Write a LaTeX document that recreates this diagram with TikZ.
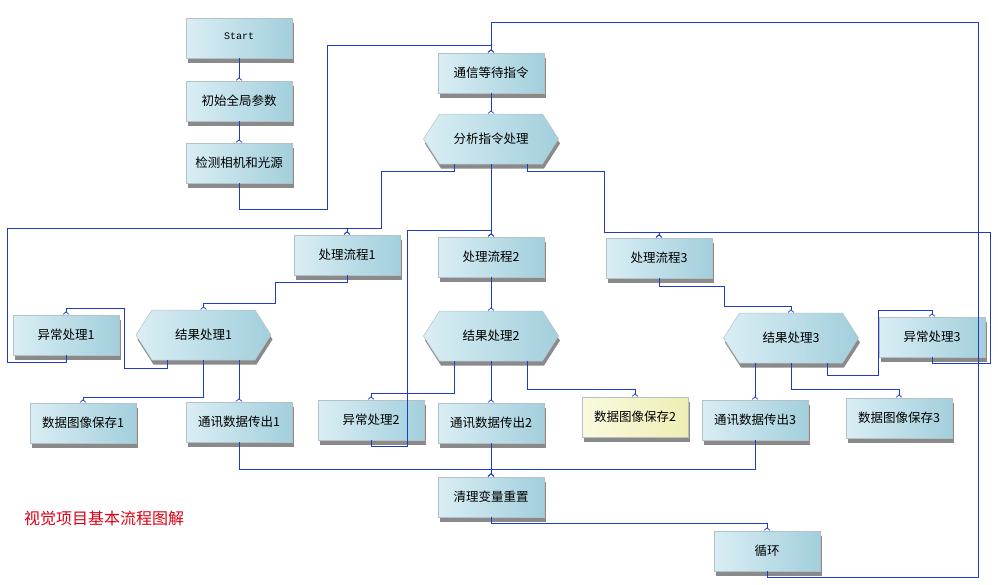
\documentclass[tikz,border=0pt]{standalone}
\usepackage{fontspec}
\setmainfont{Noto Sans CJK SC}
\setmonofont{Liberation Mono}
\usetikzlibrary{arrows.meta,shadows,calc}
\definecolor{boxL}{HTML}{DAEEF4}
\definecolor{boxR}{HTML}{A2CFDC}
\definecolor{yelL}{HTML}{FAFAE0}
\definecolor{yelR}{HTML}{EEEEB4}
\definecolor{edge}{HTML}{B4C2C8}
\definecolor{shad}{HTML}{8A8A8A}
\definecolor{wire}{HTML}{1E3CC8}
\definecolor{title}{HTML}{DC0014}
\tikzset{
  boxshadow/.style={general shadow={fill=shad, shadow xshift=1.5pt, shadow yshift=-4.5pt}},
  box/.style={rectangle, boxshadow, left color=boxL, right color=boxR, draw=edge, line width=0.5pt,
    minimum width=106pt, minimum height=40pt, inner sep=0pt, font=\fontsize{12.5}{14}\selectfont},
  yellowbox/.style={box, left color=yelL, right color=yelR},
  hexfill/.style={boxshadow, left color=boxL, right color=boxR, draw=edge, line width=0.5pt},
  hexnode/.style={rectangle, draw=none, minimum width=135pt, minimum height=50pt, inner sep=0pt,
    font=\fontsize{12.5}{14}\selectfont},
  conn/.style={draw=wire, line width=0.9pt, -{Straight Barb[reversed,length=2.5pt,width=6pt,line width=0.7pt]}},
  plain/.style={draw=wire, line width=0.9pt}
}
\newcommand\hexat[4]{%
  \path[hexfill] (#2-67.5,#3) -- (#2-51.5,#3-25) -- (#2+51.5,#3-25) -- (#2+67.5,#3)
     -- (#2+51.5,#3+25) -- (#2-51.5,#3+25) -- cycle;
  \node[hexnode] (#1) at (#2,#3) {#4};}
\begin{document}
\begin{tikzpicture}[x=1pt,y=-1pt]
\useasboundingbox (0,0) rectangle (998,584);
\fill[white] (0,0) rectangle (998,584);

% boxes
\node[box, font=\ttfamily\fontsize{10}{12}\selectfont] (start) at (239,38) {\raisebox{3pt}{Start}};
\node[box] (init) at (239,101) {初始全局参数};
\node[box] (detect) at (239,163) {检测相机和光源};
\node[box] (comm) at (491,73) {通信等待指令};
\hexat{ana}{491}{139}{分析指令处理}
\node[box] (p1) at (347,255) {处理流程1};
\node[box] (p2) at (491,257) {处理流程2};
\node[box] (p3) at (659,258) {处理流程3};
\node[box] (e1) at (66,335) {异常处理1};
\hexat{r1}{203.5}{335}{结果处理1}
\hexat{r2}{491}{336}{结果处理2}
\hexat{r3}{791}{338}{结果处理3}
\node[box] (e3) at (932,337) {异常处理3};
\node[box] (d1) at (83,423) {数据图像保存1};
\node[box] (t1) at (239,422) {通讯数据传出1};
\node[box] (e2) at (371,420) {异常处理2};
\node[box] (t2) at (491,423) {通讯数据传出2};
\node[yellowbox] (d2) at (635,417) {数据图像保存2};
\node[box] (t3) at (755,420) {通讯数据传出3};
\node[box] (d3) at (899,418) {数据图像保存3};
\node[box] (clear) at (491,497) {清理变量重置};
\node[box] (loop) at (767,551) {循环};

\node[text=title, font=\fontsize{16}{18}\selectfont, inner sep=0pt] (caption) at (104,518) {视觉项目基本流程图解};

% connectors
\draw[conn] (start.south) -- (init.north);
\draw[conn] (init.south) -- (detect.north);
\draw[conn] (detect.south) -- ++(0,26) -| (327,45) -| (comm.north);
\draw[conn] (loop.south) -- ++(0,6) -| (978,22) -| (comm.north);
\draw[conn] (comm.south) -- (ana.north);

\draw[conn] ($(ana.south)+(-37,0)$) -- ++(0,7) -| (381,228) -| (p1.north);
\draw[conn] (e1.south) -- ++(0,7) -| (7,228) -| (p1.north);
\draw[conn] (ana.south) -- (p2.north);
\draw[conn] (e2.south) -- ++(0,6) -| (407,230) -| (p2.north);
\draw[conn] ($(ana.south)+(36,0)$) -- ++(0,7) -| (604,232) -| (p3.north);
\draw[conn] (e3.south) -- ++(0,6) -| (990,232) -| (p3.north);

\draw[conn] (p1.south) -- ++(0,7) -| (275,303) -| (r1.north);
\draw[conn] (p2.south) -- (r2.north);
\draw[conn] (p3.south) -- ++(0,8) -| (724,306) -| (r3.north);

\draw[conn] ($(r1.south)+(-36.5,0)$) -- ++(0,8) -| (124,308) -| (e1.north);
\draw[conn] (r1.south) -- ++(0,37) -| (d1.north);
\draw[conn] (t1.north |- r1.south) -- (t1.north);

\draw[conn] ($(r2.south)+(-37,0)$) -- ++(0,32) -| (e2.north);
\draw[conn] (r2.south) -- (t2.north);
\draw[conn] ($(r2.south)+(36,0)$) -- ++(0,28) -| (d2.north);

\draw[conn] (t3.north |- r3.south) -- (t3.north);
\draw[conn] (r3.south) -- ++(0,26) -| (d3.north);
\draw[conn] ($(r3.south)+(36,0)$) -- ++(0,12) -| (878,310) -| (e3.north);

\draw[conn] (t1.south) -- ++(0,27) -| (clear.north);
\draw[conn] (t3.south) -- ++(0,29) -| (clear.north);
\draw[conn] (t2.south) -- (clear.north);
\draw[conn] (clear.south) -- ++(0,6) -| (loop.north);
\end{tikzpicture}
\end{document}
